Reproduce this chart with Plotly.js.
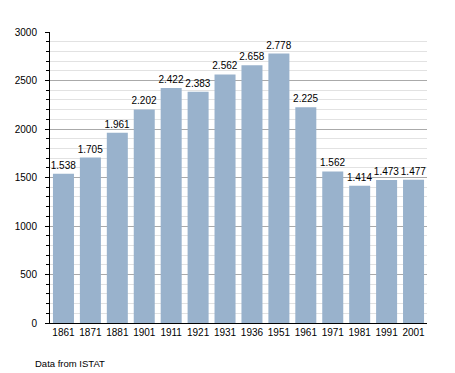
<!DOCTYPE html>
<html><head><meta charset="utf-8">
<script src="https://cdn.plot.ly/plotly-3.0.1.min.js"></script>
<style>body{margin:0;padding:0;background:#fff}#c{width:455px;height:373px}</style>
</head><body><div id="c"></div>
<script>
var years = ["1861","1871","1881","1901","1911","1921","1931","1936","1951","1961","1971","1981","1991","2001"];
var population = [1538,1705,1961,2202,2422,2383,2562,2658,2778,2225,1562,1414,1473,1477];
var labels = population.map(function(v){var s=String(v);return s.slice(0,s.length-3)+"."+s.slice(-3);});

var trace = {
  type:"bar", x:years, y:population, text:labels, textposition:"outside",
  constraintext:"none",
  textfont:{family:"Liberation Sans, Arial, sans-serif", size:10, color:"#000"},
  marker:{color:"#99b2cc", line:{width:0}},
  cliponaxis:false, hoverinfo:"none", width:0.78
};
var layout = {
  width:455, height:373,
  margin:{l:50, r:28, t:32, b:50},
  paper_bgcolor:"#fff", plot_bgcolor:"#fff",
  font:{family:"Liberation Sans, Arial, sans-serif", size:10, color:"#000"},
  showlegend:false,
  xaxis:{type:"category", showline:true, linecolor:"#000", linewidth:1, ticks:"", tickfont:{size:10}, showgrid:false, zeroline:false, fixedrange:true},
  yaxis:{range:[0,3000], dtick:500, showline:true, linecolor:"#000", linewidth:1,
    ticks:"outside", ticklen:4, tickcolor:"#000", gridcolor:"#aaaaaa", gridwidth:1,
    zeroline:false, tickfont:{size:10}, tickformat:"d", ticklabelstandoff:6,
    minor:{dtick:100, showgrid:true, gridcolor:"#e2e2e2", ticks:"outside", ticklen:3, tickcolor:"#000"}},
  annotations:[{text:"Data from ISTAT", xref:"paper", yref:"paper", x:-0.045, y:-0.112, xanchor:"left", yanchor:"top", showarrow:false, font:{size:9.5, color:"#000"}}]
};
Plotly.newPlot("c",[trace],layout,{displayModeBar:false,staticPlot:true});
</script></body></html>
